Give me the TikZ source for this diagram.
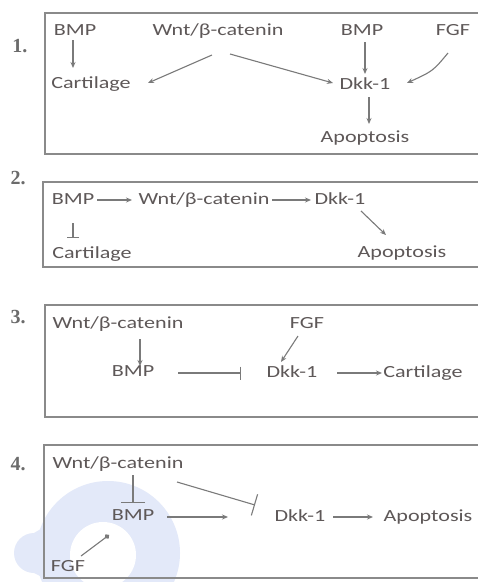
\documentclass[tikz,border=0pt]{standalone}
\usepackage{fontspec}
\setmainfont{Carlito}[FakeStretch=1.3]
\newfontfamily\numfont{Liberation Serif}
\usetikzlibrary{arrows.meta,calc}
\definecolor{txt}{HTML}{5E5858}
\definecolor{ln}{HTML}{7A7A7A}
\definecolor{bx}{HTML}{8A8A8A}
\definecolor{wm}{HTML}{E3E9F9}
\begin{document}
\begin{tikzpicture}[x=1pt,y=-1pt,
 lbl/.style={text=txt,inner sep=0pt,text height=11pt,text depth=3pt,font=\fontsize{17}{19}\selectfont},
 num/.style={text=black!58,inner sep=0pt,font=\numfont\bfseries\fontsize{20}{22}\selectfont},
 panel/.style={draw=bx,line width=1.4pt},
 act/.style={draw=ln,line width=1.1pt,-{Stealth[length=6pt,width=5pt]}},
 inh/.style={draw=ln,line width=1.1pt,-{Bar[width=13pt,line width=1.1pt]}},
 dotend/.style={draw=ln,line width=1.1pt,-{Circle[length=5pt]}},
 ]
\useasboundingbox (0,0) rectangle (478,582);
\clip (0,0) rectangle (478,582);
\fill[white] (0,0) rectangle (478,582);
% watermark
\fill[wm] (108,553) circle[radius=72];
\fill[wm] (34,553) circle[radius=20];
\fill[wm] (34,533) -- (90,500) -- (90,600) -- (34,573) -- cycle;
\fill[white] (103,555) circle[radius=33];
% panels
\draw[panel] (490,13) -- (45,13) -- (45,154) -- (490,154);
\draw[panel] (490,182) -- (43,182) -- (43,267) -- (490,267);
\draw[panel] (490,305) -- (45,305) -- (45,417) -- (490,417);
\draw[panel] (490,445) -- (44,445) -- (44,578) -- (490,578);
\node[num] (n1) at (20,46) {1.};
\node[num] (n2) at (18,178) {2.};
\node[num] (n3) at (18,317) {3.};
\node[num] (n4) at (18,464) {4.};
% panel 1
\node[lbl] (b1) at (75,31) {BMP};
\node[lbl] (w1) at (218,31) {Wnt/β-catenin};
\node[lbl] (b1r) at (362,31) {BMP};
\node[lbl] (f1) at (453,31) {FGF};
\node[lbl] (c1) at (91,84) {Cartilage};
\node[lbl] (d1) at (365,85) {Dkk-1};
\node[lbl] (a1) at (365,138) {Apoptosis};
\draw[act] ($(b1)+(-2,9)$) -- ($(c1)+(-18,-16)$);
\draw[act] ($(w1)+(-6,24)$) -- ($(c1)+(57,-1)$);
\draw[act] ($(w1)+(12,23)$) -- ($(d1)+(-32,-2)$);
\draw[act] ($(b1r)+(3,11)$) -- ($(d1)+(0,-11)$);
\draw[act] ($(f1)+(-5,22)$) .. controls ($(f1)+(-20,40)$) .. ($(d1)+(42,-2)$);
\draw[act] ($(d1)+(4,12)$) -- ($(a1)+(4,-14)$);
% panel 2
\node[lbl] (b2) at (73,200) {BMP};
\node[lbl] (w2) at (204,200) {Wnt/β-catenin};
\node[lbl] (d2) at (340,200) {Dkk-1};
\node[lbl] (c2) at (92,254) {Cartilage};
\node[lbl] (a2) at (402,253) {Apoptosis};
\draw[act] ($(b2)+(24,0)$) -- ($(w2)+(-72,0)$);
\draw[act] ($(w2)+(68,0)$) -- ($(d2)+(-29,0)$);
\draw[inh,-{Bar[width=12pt,line width=1.1pt]}] ($(b2)+(0,23)$) -- ($(c2)+(-19,-16)$);
\draw[act] ($(d2)+(21,11)$) -- ($(a2)+(-16,-18)$);
% panel 3
\node[lbl] (w3) at (118,324) {Wnt/β-catenin};
\node[lbl] (f3) at (307,324) {FGF};
\node[lbl] (b3) at (133,372) {BMP};
\node[lbl] (d3) at (292,373) {Dkk-1};
\node[lbl] (c3) at (423,373) {Cartilage};
\draw[act] ($(w3)+(22,15)$) -- ($(b3)+(7,-6)$);
\draw[act] ($(f3)+(-9,12)$) -- ($(d3)+(-11,-11)$);
\draw[inh] ($(b3)+(45,1)$) -- ($(d3)+(-51,0)$);
\draw[act] ($(d3)+(45,0)$) -- ($(c3)+(-41,0)$);
% panel 4
\node[lbl] (w4) at (118,464) {Wnt/β-catenin};
\node[lbl] (b4) at (133,516) {BMP};
\node[lbl] (d4) at (300,517) {Dkk-1};
\node[lbl] (a4) at (428,517) {Apoptosis};
\node[lbl] (f4) at (68,567) {FGF};
\coordinate (inhend) at (255,505);
\coordinate (actend) at (228,517);
\draw[inh,-{Bar[width=24pt,line width=1.1pt]}] ($(w4)+(15,11)$) -- ($(b4)+(0,-13)$);
\draw[inh,-{Bar[width=22pt,line width=1.1pt]}] ($(w4)+(59,18)$) -- (inhend);
\draw[act] ($(b4)+(34,1)$) -- (actend);
\draw[act] ($(d4)+(33,0)$) -- ($(a4)+(-55,0)$);
\draw[dotend] ($(f4)+(13,-11)$) -- ($(b4)+(-24,19)$);
\end{tikzpicture}
\end{document}
